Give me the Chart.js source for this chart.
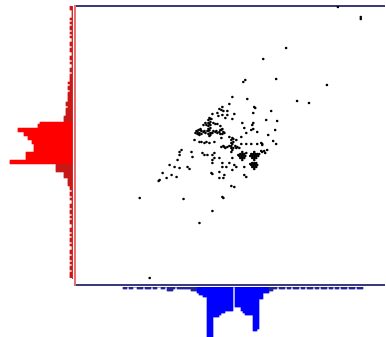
<!DOCTYPE html>
<html>
<head>
<meta charset="utf-8">
<script src="https://cdn.jsdelivr.net/npm/chart.js@4/dist/chart.umd.min.js"></script>
<style>
  html, body { margin: 0; padding: 0; background: #ffffff; }
  #wrap { position: relative; width: 386px; height: 337px; overflow: hidden; }
  #wrap canvas { position: absolute; left: 0; top: 0; }
</style>
</head>
<body>
<div id="wrap">
  <canvas id="scatter" width="386" height="337"></canvas>
  <canvas id="histY" width="386" height="337"></canvas>
  <canvas id="histX" width="386" height="337"></canvas>
</div>
<script>
// ---- data ----
// axis ranges shared by the scatter and the marginal histograms
const xRange = [0, 311];
const yRange = [0, 279];

// scatter observations [x, y]
const scatterPoints = [
  // sparse outliers
  [264,278],[287,268],[287,266],[212,237],[189,226],[171,205],[169,203],[202,206],[253,200],[158,188],
  [173,186],[181,177],[223,184],[235,182],[65,87],[109,86],[149,87],[138,74],[125,62],[75,7],[84,104],
  // upper part of the cloud
  [148,178],[145,176],[149,174],[153,174],[143,172],[138,171],[148,170],[160,171],[158,166],[137,166],
  [168,162],[179,162],[170,157],[172,152],[179,156],[201,155],[194,150],[199,144],[202,141],[188,140],
  [187,142],[179,172],[197,174],[203,164],[144,169],[147,175],[153,170],[155,181],[151,167],[180,178],
  [178,160],[192,165],[167,148],[177,155],[183,153],[162,145],[155,148],[147,147],
  // dense cross near (135,153)
  [135,167],[134,165],[136,163],[135,161],[134,159],[136,157],[135,155],[134,151],[136,150],[135,149],
  [136,166],[134,162],[136,160],[134,156],
  [123,153],[125,152],[127,154],[129,153],[131,152],[133,154],[137,152],[139,154],[141,153],[143,152],[145,153],
  [124,151],[126,155],[130,154],[138,152],[142,154],
  [123,151],[125,150],[127,151],[124,155],[126,156],[122,154],[121,152],
  [146,151],[148,151],[147,155],[149,153],[146,155],[148,156],[150,152],
  [129,160],[131,162],[132,160],[139,162],[141,161],[143,161],[146,159],[134,154],[136,152],
  // dense cross near (158,138)
  [158,147],[157,145],[159,143],[158,141],[157,139],[159,137],[158,135],[157,133],[159,146],[157,142],
  [147,138],[149,139],[151,137],[153,138],[155,139],[157,137],[161,139],[163,138],[165,137],[150,138],[162,137],
  // dense clumps
  [166,131],[168,131],[170,131],[165,129],[167,129],[169,129],[171,129],[166,127],[168,127],[170,127],[168,133],[168,125],[172,132],[164,130],
  [177,131],[179,131],[181,131],[183,131],[176,129],[178,129],[180,129],[182,129],[184,129],[178,127],[180,127],[182,127],[180,133],[180,125],[185,131],
  [178,122],[180,122],[182,122],[177,120],[179,120],[181,120],[183,120],[178,118],[180,118],[182,118],[180,116],[176,121],
  [188,133],[191,132],[193,135],[187,134],[190,134],
  [167,141],[172,141],[177,141],[183,141],[188,141],
  // lower-left part of the cloud
  [127,143],[132,143],[135,142],[140,143],[105,133],[105,130],[103,125],[117,133],[118,128],[130,130],
  [133,130],[138,130],[140,132],[138,125],[138,122],[145,127],[148,122],[152,118],[158,127],[162,118],
  [170,118],[170,110],[172,108],[145,113],[145,107],[138,111],[150,110],[149,107],[155,122],[157,99],
  [160,98],[148,88],[95,120],[100,118],[105,117],[97,110],[92,107],[85,105],[102,108],[88,112],
  [113,118],[115,116],[107,135],[128,132],[140,127],[148,118],[160,120],[158,115],[137,112],[125,143],
  [130,142],[120,145]
];

// histogram of x (bins of width 2 starting at x = 48)
const xBinStart = 48;
const xBinWidth = 2;
const xCounts = [
  1,1,0,1,1,0,0,1,1,1,0,1,1,1,0,1,1,0,0,1,1,0,2,2,2,1,0,1,1,1,
  1,1,1,1,2,2,2,3,4,4,5,5,25,25,25,15,15,15,14,13,13,12,12,12,12,0,10,10,10,12,
  13,14,14,14,14,22,22,21,6,6,3,3,3,2,2,
  1,1,0,1,1,1,0,1,1,0,1,1,1,0,1,1,0,1,1,1,0,1,1,0,1,1,1,0,1,1,
  0,1,1,0,1,1,1,0,1,1,1,0,1,1,1
];

// histogram of y (bins of width 2, listed from the top edge y = 279 downward)
const yBinTop = 279;
const yBinWidth = 2;
const yCounts = [
  1,1,0,0,0,0,1,0,1,0,1,1,0,1,0,1,0,0,1,1,0,1,1,0,0,1,1,0,1,0,0,1,1,0,1,1,1,
  1,2,1,2,2,1,2,
  2,2,2,
  2,3,3,2,3,
  3,3,3,
  4,4,4,
  16,17,17,
  27,27,
  24,24,
  22,22,
  20,20,
  19,19,19,19,
  23,23,23,23,
  31,31,
  8,8,8,8,
  4,4,4,
  2,2,2,2,
  1,1,0,1,1,0,1,0,0,1,1,0,1,1,0,1,0,1,1,0,0,1,1,0,1,0,1,1,0,1,0,0,1,1,0,1,1,0,1,0,1,1,0,1,1,1
];

// ---- helpers ----
const NAVY = '#3b3b7c';

function frameAxis(extra) {
  return Object.assign({
    display: true,
    offset: false,
    ticks: { display: false },
    grid: { display: false, drawTicks: false, tickLength: 0 },
    border: { display: false },
    afterFit: s => { if (s.isHorizontal()) s.height = 0; else s.width = 0; }
  }, extra);
}

const baseOptions = {
  responsive: false,
  animation: false,
  events: [],
  plugins: { legend: { display: false }, tooltip: { enabled: false } }
};

// ---- scatter ----
new Chart(document.getElementById('scatter'), {
  type: 'scatter',
  data: {
    datasets: [{
      data: scatterPoints.map(p => ({ x: p[0], y: p[1] })),
      pointRadius: 1.3,
      pointHoverRadius: 1.3,
      backgroundColor: '#000000',
      borderWidth: 0
    }]
  },
  options: Object.assign({}, baseOptions, {
    layout: { padding: { left: 75, top: 6, right: 0, bottom: 52 } },
    scales: {
      x: frameAxis({ type: 'linear', position: 'bottom', min: xRange[0], max: xRange[1],
                     border: { display: true, color: NAVY, width: 2 } }),
      xTop: frameAxis({ type: 'linear', position: 'top', min: xRange[0], max: xRange[1],
                        border: { display: true, color: NAVY, width: 2 } }),
      y: frameAxis({ type: 'linear', position: 'left', min: yRange[0], max: yRange[1],
                     border: { display: true, color: '#e27272', width: 2 } })
    }
  })
});

// ---- marginal histogram of y (left, bars grow leftward) ----
new Chart(document.getElementById('histY'), {
  type: 'bar',
  data: {
    datasets: [{
      data: yCounts.map((c, k) => ({ y: yBinTop - yBinWidth * (k + 0.5), x: c })),
      backgroundColor: ctx => (ctx.raw && ctx.raw.x <= 8) ? '#c81818' : '#ff0000',
      borderWidth: 0,
      barPercentage: 1,
      categoryPercentage: 1
    }]
  },
  options: Object.assign({}, baseOptions, {
    indexAxis: 'y',
    layout: { padding: { left: 0, top: 6, right: 314, bottom: 59 } },
    scales: {
      x: frameAxis({ type: 'linear', reverse: true, min: 0, max: 36 }),
      y: frameAxis({ type: 'linear', position: 'right', min: 7, max: yRange[1],
                     border: { display: true, color: '#e02222', width: 1 } })
    }
  })
});

// ---- marginal histogram of x (bottom, bars grow downward) ----
new Chart(document.getElementById('histX'), {
  type: 'bar',
  data: {
    datasets: [{
      data: xCounts.map((c, i) => ({ x: xBinStart + xBinWidth * (i + 0.5), y: c })),
      backgroundColor: ctx => (ctx.raw && ctx.raw.y <= 2) ? '#24249a' : '#0000ff',
      borderWidth: 0,
      barPercentage: 1,
      categoryPercentage: 1
    }]
  },
  options: Object.assign({}, baseOptions, {
    layout: { padding: { left: 75, top: 287, right: 0, bottom: 0 } },
    scales: {
      x: frameAxis({ type: 'linear', min: xRange[0], max: xRange[1] }),
      y: frameAxis({ type: 'linear', reverse: true, min: 0, max: 25 })
    }
  })
});
</script>
</body>
</html>
